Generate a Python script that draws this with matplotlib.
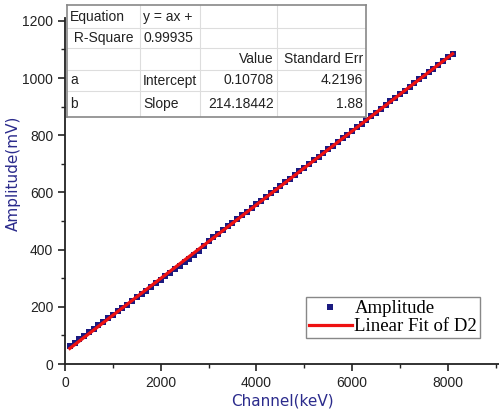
import numpy as np
import matplotlib
matplotlib.use('Agg')
import matplotlib.pyplot as plt
from matplotlib.ticker import MultipleLocator

# dati
canale = [100, 200, 300, 400, 500, 600, 700, 800, 900, 1000,
          1100, 1200, 1300, 1400, 1500, 1600, 1700, 1800, 1900, 2000,
          2100, 2200, 2300, 2400, 2500, 2600, 2700, 2800, 2900, 3000,
          3100, 3200, 3300, 3400, 3500, 3600, 3700, 3800, 3900, 4000,
          4100, 4200, 4300, 4400, 4500, 4600, 4700, 4800, 4900, 5000,
          5100, 5200, 5300, 5400, 5500, 5600, 5700, 5800, 5900, 6000,
          6100, 6200, 6300, 6400, 6500, 6600, 6700, 6800, 6900, 7000,
          7100, 7200, 7300, 7400, 7500, 7600, 7700, 7800, 7900, 8000, 8100]
ampiezza = [62, 74, 86, 99, 111, 123, 135, 147, 160, 172,
            184, 196, 208, 221, 233, 245, 257, 270, 282, 294,
            306, 318, 331, 343, 355, 367, 380, 394, 412, 430,
            443, 456, 468, 481, 494, 507, 520, 533, 545, 558,
            571, 584, 597, 610, 622, 635, 648, 661, 674, 687,
            699, 712, 725, 738, 751, 764, 776, 789, 802, 815,
            828, 841, 853, 866, 879, 892, 905, 918, 930, 943,
            956, 969, 982, 995, 1007, 1020, 1033, 1046, 1059, 1072, 1085]

righe_tabella = [
    ['Equation', 'y = ax +', '', ''],
    [' R-Square', '0.99935', '', ''],
    ['', '', 'Value', 'Standard Err'],
    ['a', 'Intercept', '0.10708', '4.2196'],
    ['b', 'Slope', '214.18442', '1.88'],
]

W, H = 499, 412
fig = plt.figure(figsize=(W / 100, H / 100), dpi=100)
ax = fig.add_axes([65 / W, 48 / H, (W - 65) / W, 346 / H])

blu = '#1a1a80'
rosso = '#ee1111'

x = np.array(canale)
y = np.array(ampiezza)
p = np.polyfit(x, y, 1)

ax.plot(x, y, 's', color=blu, markersize=5, markeredgewidth=0, label='Amplitude', zorder=2)
ax.plot(x, np.polyval(p, x), color=rosso, lw=2.3, label='Linear Fit of D2', zorder=3)

ax.set_xlim(0, 9070)
ax.set_ylim(0, 1210)
ax.xaxis.set_major_locator(MultipleLocator(2000))
ax.xaxis.set_minor_locator(MultipleLocator(1000))
ax.yaxis.set_major_locator(MultipleLocator(200))
ax.yaxis.set_minor_locator(MultipleLocator(100))
for s in ['top', 'right']:
    ax.spines[s].set_visible(False)
for s in ['left', 'bottom']:
    ax.spines[s].set_linewidth(1.3)
    ax.spines[s].set_color('#222222')
ax.tick_params(which='major', direction='out', length=5, width=1.2, labelsize=10,
               labelcolor='#222222', color='#222222')
ax.tick_params(which='minor', direction='out', length=3, width=1.0, color='#222222')
for t in ax.get_xticklabels() + ax.get_yticklabels():
    t.set_fontfamily('Liberation Sans')

ax.set_xlabel('Channel(keV)', color='#2b2b8c', fontsize=11, labelpad=3)
ax.set_ylabel('Amplitude(mV)', color='#2b2b8c', fontsize=11, va='center')
ax.yaxis.set_label_coords(-0.12, 0.55)

leg = ax.legend(loc='lower right', bbox_to_anchor=(480 / W, 74 / H), bbox_transform=fig.transFigure,
                prop={'family': 'Liberation Serif', 'size': 13.5}, fancybox=False,
                edgecolor='#888888', framealpha=1, handlelength=2.3, borderpad=0.15,
                labelspacing=0.05, handletextpad=0.15, borderaxespad=0)
leg.get_frame().set_linewidth(1.0)

# tabella del fit in alto a sinistra
tx0, tx1 = 67, 366
col = [67, 140, 200, 277, 366]
rig = [5, 28, 48, 70, 91, 117]
tab = fig.add_axes([tx0 / W, 1 - rig[-1] / H, (tx1 - tx0) / W, (rig[-1] - rig[0]) / H])
tab.set_xlim(tx0, tx1)
tab.set_ylim(rig[-1], rig[0])
tab.set_facecolor('white')
tab.set_xticks([])
tab.set_yticks([])
for s in tab.spines.values():
    s.set_color('#888888')
    s.set_linewidth(1.2)
for c in col[1:-1]:
    tab.plot([c, c], [rig[0], rig[-1]], color='#dddddd', lw=0.8)
for r in rig[1:-1]:
    tab.plot([tx0, tx1], [r, r], color='#dddddd', lw=0.8)
for i, riga in enumerate(righe_tabella):
    yc = (rig[i] + rig[i + 1]) / 2
    for j, testo in enumerate(riga):
        if not testo:
            continue
        if j >= 2:
            tab.text(col[j + 1] - 3, yc, testo, ha='right', va='center',
                     fontsize=10, family='Liberation Sans', color='#222222')
        else:
            tab.text(col[j] + 3, yc, testo, ha='left', va='center',
                     fontsize=10, family='Liberation Sans', color='#222222')

fig.savefig('out.png', dpi=100)
